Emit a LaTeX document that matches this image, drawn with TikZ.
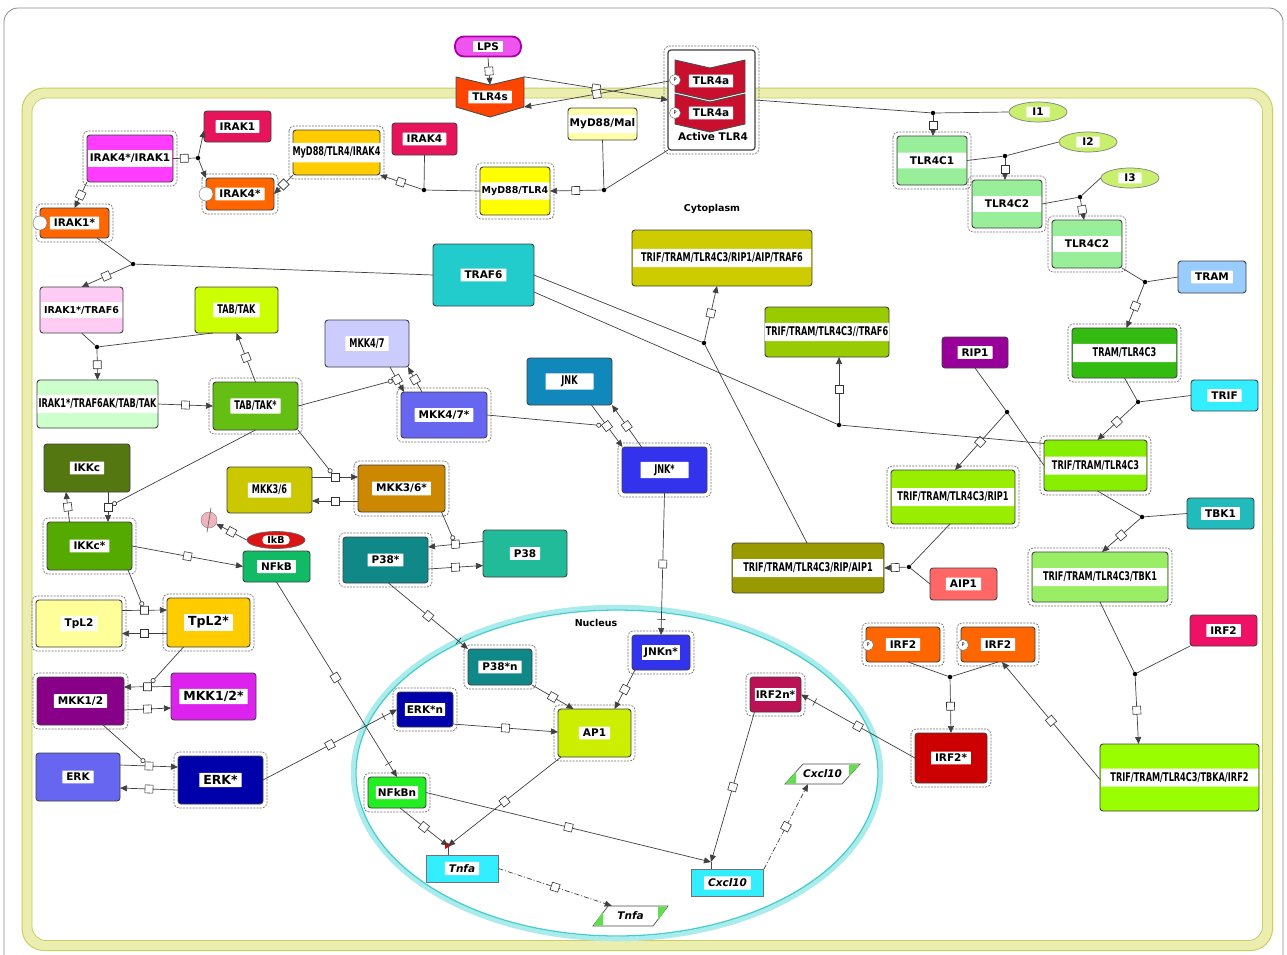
\documentclass[tikz,border=0pt]{standalone}
\usepackage{fontspec}
\setmainfont{DejaVu Sans}
\newfontfamily\condf{DejaVu Sans}[FakeStretch=0.68]
\usetikzlibrary{arrows.meta,shapes.geometric}
\newcommand{\lbf}{\bfseries\fontsize{10.5}{12}\selectfont}
\newcommand{\sbf}{\bfseries\fontsize{9.5}{11}\selectfont}
\newcommand{\gbf}{\bfseries\fontsize{12.5}{14}\selectfont}
\newcommand{\cbf}{\condf\bfseries\fontsize{12}{14}\selectfont}
\newcommand{\ibf}{\bfseries\itshape\fontsize{10.5}{12}\selectfont}
\newcommand{\mkbox}[7]{%
  \node[box,minimum width=#3,minimum height=#4,#5] (#1) at (#2) {};
  \node[lab,#6] (#1-l) at (#1.center) {#7};}
\definecolor{cLpsB}{RGB}{170,0,170}\definecolor{cLpsF}{RGB}{238,85,238}
\definecolor{cTlrS}{RGB}{255,68,0}\definecolor{cTlr}{RGB}{200,16,46}
\definecolor{cMal}{RGB}{255,255,170}\definecolor{cMyd}{RGB}{255,255,0}
\definecolor{cIRAKr}{RGB}{230,20,90}\definecolor{cGold}{RGB}{255,204,0}
\definecolor{cMag}{RGB}{255,60,255}\definecolor{cOr}{RGB}{255,102,0}
\definecolor{cPink}{RGB}{255,204,245}\definecolor{cYG}{RGB}{204,255,0}
\definecolor{cPaleG}{RGB}{204,255,204}\definecolor{cTabS}{RGB}{100,190,20}
\definecolor{cLav}{RGB}{204,204,255}\definecolor{cBV}{RGB}{102,102,240}
\definecolor{cJnk}{RGB}{17,136,187}\definecolor{cBlue}{RGB}{51,51,238}
\definecolor{cTraf}{RGB}{34,204,204}\definecolor{cOlive}{RGB}{204,204,0}
\definecolor{cYGt}{RGB}{153,204,0}\definecolor{cRip}{RGB}{153,0,153}
\definecolor{cTramC}{RGB}{51,187,17}\definecolor{cTrif}{RGB}{51,238,255}
\definecolor{cLime}{RGB}{136,238,0}\definecolor{cLimeb}{RGB}{153,238,0}
\definecolor{cTbk}{RGB}{34,187,187}\definecolor{cLG}{RGB}{153,238,102}
\definecolor{cOlb}{RGB}{153,153,0}\definecolor{cAip}{RGB}{255,102,102}
\definecolor{cTC}{RGB}{153,238,153}\definecolor{cIel}{RGB}{200,240,110}
\definecolor{cTram}{RGB}{153,204,255}\definecolor{cIkkc}{RGB}{85,119,17}
\definecolor{cIkkcs}{RGB}{85,170,0}\definecolor{cMus}{RGB}{204,200,0}
\definecolor{cBrown}{RGB}{204,136,0}\definecolor{cIkb}{RGB}{220,20,20}
\definecolor{cNfkb}{RGB}{17,187,102}\definecolor{cTeal}{RGB}{17,136,136}
\definecolor{cSea}{RGB}{34,187,153}\definecolor{cPY}{RGB}{255,255,153}
\definecolor{cPurp}{RGB}{136,0,136}\definecolor{cMagb}{RGB}{221,34,238}
\definecolor{cNavy}{RGB}{0,0,170}\definecolor{cAP}{RGB}{204,238,0}
\definecolor{cIrfn}{RGB}{187,17,85}\definecolor{cNfkbn}{RGB}{34,238,34}
\definecolor{cCyan}{RGB}{51,238,255}\definecolor{cIrfp}{RGB}{238,17,102}
\definecolor{cRed}{RGB}{204,0,0}\definecolor{cLimec}{RGB}{153,255,0}
\definecolor{cDeg}{RGB}{240,180,190}\definecolor{cMr}{RGB}{100,220,80}
\definecolor{membF}{RGB}{236,238,175}\definecolor{membD}{RGB}{200,205,100}
\definecolor{nucF}{RGB}{170,235,235}\definecolor{nucD}{RGB}{70,205,205}
\tikzset{
 box/.style={draw=black!75, line width=0.9pt, rounded corners=3pt, inner sep=0pt, outer sep=0pt},
 dotin/.style={append after command={\pgfextra{\draw[black!50, fill=none, densely dotted, line width=0.6pt, rounded corners=2pt] ([shift={(3,3)}]\tikzlastnode.north west) rectangle ([shift={(-3,-3)}]\tikzlastnode.south east);}}},
 cpx/.style={dotin, append after command={\pgfextra{\draw[black!55, fill=none, dash pattern=on 2pt off 1.2pt, line width=0.7pt, rounded corners=5pt] ([shift={(-4,-4)}]\tikzlastnode.north west) rectangle ([shift={(4,4)}]\tikzlastnode.south east);}}},
 lab/.style={fill=white, inner xsep=4pt, inner ysep=2.5pt, font=\lbf, rounded corners=0.5pt},
 cl/.style={font=\cbf},
 wide/.style={inner xsep=1pt, inner ysep=4pt, minimum width=#1},
 ln/.style={draw=black!75, line width=0.7pt},
 rx/.style={ln, -{Triangle[length=7pt,width=6pt]}},
 mrx/.style={rx, dash pattern=on 5pt off 2pt on 1pt off 2pt},
 cat/.style={ln, -{Circle[open,length=5pt,width=5pt]}},
 proc/.style={draw=black!80, solid, fill=white, line width=0.6pt, minimum size=8pt, inner sep=0pt, sloped},
 bar/.style={draw=black!80, solid, line width=0.6pt, minimum width=0pt, minimum height=8pt, inner sep=0pt, sloped},
 dot/.style={circle, fill=black, inner sep=0pt, minimum size=4.5pt},
 pcirc/.style={circle, draw=black!60, fill=white, inner sep=0pt, minimum size=11pt, font=\fontsize{5}{5}\selectfont},
 stc/.style={circle, draw=black!60, fill=white, inner sep=0pt, minimum size=14pt},
 recep/.style={draw=black!70, line width=0.9pt, line join=round},
 gene/.style={draw=black!55, fill=cCyan, line width=0.8pt, minimum width=72, minimum height=27, inner sep=0pt},
 iel/.style={ellipse, draw=black!50, fill=cIel, line width=0.7pt, minimum width=58, minimum height=20, inner sep=0pt},
 ttl/.style={font=\bfseries\fontsize{9.5}{11}\selectfont}
}
\begin{document}
\begin{tikzpicture}[x=1pt,y=-1pt]
\useasboundingbox (0,0) rectangle (1287,954);
\fill[white] (0,0) rectangle (1287,954);
\draw[black!45, line width=0.8pt, rounded corners=14pt] (4,8) rectangle (1283,990);
% membrane
\draw[line width=10pt, draw=membF, rounded corners=18pt] (27,93) rectangle (1267.5,945.5);
\draw[line width=1pt, draw=membD, rounded corners=22pt] (22,88) rectangle (1272.5,950.5);
\draw[line width=0.8pt, draw=membD, rounded corners=14pt] (32,98) rectangle (1262.5,940.5);
% nucleus
\draw[line width=4.5pt, draw=nucF] (617,773) ellipse [x radius=264, y radius=166];
\draw[line width=1.3pt, draw=nucD] (617,773) ellipse [x radius=261, y radius=163];
\node[ttl] (nuclab) at (596,623) {Nucleus};
\node[ttl] (cytlab) at (712,209) {Cytoplasm};

% ---- receptors
\node[draw=cLpsB, fill=cLpsF, line width=1.8pt, rounded corners=9pt, minimum width=66, minimum height=20, inner sep=0pt] (lps) at (488,46.5) {};
\node[lab, inner ysep=1.5pt] (lps-l) at (lps) {LPS};
\node[inner sep=0pt, minimum width=68, minimum height=40] (tlr4s) at (490,97) {};
\draw[recep, fill=cTlrS] (456,77) -- (490,85) -- (524,77) -- (524,107) -- (490,117) -- (456,107) -- cycle;
\node[lab] (tlr4s-l) at (490,97) {TLR4s};
\node[box, cpx, fill=white, line width=1.2pt, minimum width=87, minimum height=100] (active) at (711.5,100) {};
\draw[recep, fill=cTlr] (675,60) -- (710,68) -- (745,60) -- (745,92) -- (710,100) -- (675,92) -- cycle;
\draw[recep, fill=cTlr] (675,94) -- (710,102) -- (745,94) -- (745,124) -- (710,132) -- (675,124) -- cycle;
\node[lab] (tlr4a1) at (711,81) {TLR4a};
\node[lab] (tlr4a2) at (711,113) {TLR4a};
\node[pcirc] (pa1) at (675,80) {P};
\node[pcirc] (pa2) at (675,113) {P};
\node[font=\lbf] (actlab) at (713,137) {Active TLR4};

% ---- species
\mkbox{mal}{602.5,124}{69}{32}{fill=cMal}{wide=67}{MyD88/Mal}
\mkbox{myd}{515,191}{70}{48}{cpx,fill=cMyd}{wide=68,font=\sbf}{MyD88/TLR4}
\mkbox{irak4}{424.5,139}{65}{32}{fill=cIRAKr}{}{IRAK4}
\mkbox{mti4}{336.5,152.5}{87}{45}{cpx,fill=cGold}{cl,wide=85}{MyD88/TLR4/IRAK4}
\mkbox{irak1}{237.5,126.5}{67}{31}{fill=cIRAKr}{}{IRAK1}
\mkbox{iaa}{130,158.5}{86}{47}{cpx,fill=cMag}{wide=84}{IRAK4*/IRAK1}
\mkbox{irak4s}{240,194}{68}{32}{cpx,fill=cOr}{}{IRAK4*}
\node[stc] (st4) at (206,194) {};
\mkbox{irak1s}{74.5,223}{69}{30}{cpx,fill=cOr}{}{IRAK1*}
\node[stc] (st1) at (40,223) {};
\mkbox{it6}{81.5,310}{83}{46}{dotin,fill=cPink}{wide=81,font=\sbf}{IRAK1*/TRAF6}
\mkbox{tabtak}{236.5,310}{83}{46}{dotin,fill=cYG}{cl}{TAB/TAK}
\mkbox{itt}{97.5,404}{121}{48}{dotin,fill=cPaleG}{cl,wide=119}{IRAK1*/TRAF6AK/TAB/TAK}
\mkbox{tabtaks}{255.5,406}{85}{48}{cpx,fill=cTabS}{cl}{TAB/TAK*}
\mkbox{mkk47}{367,343.5}{84}{47}{dotin,fill=cLav}{cl}{MKK4/7}
\mkbox{mkk47s}{444,415}{86}{46}{cpx,fill=cBV}{}{MKK4/7*}
\mkbox{jnk}{569.5,381.5}{85}{47}{dotin,fill=cJnk}{cl,minimum width=48}{JNK}
\mkbox{jnks}{664.5,470}{85}{46}{cpx,fill=cBlue}{cl,minimum width=48}{JNK*}
\mkbox{traf6}{483.5,275}{101}{62}{fill=cTraf}{}{TRAF6}
\mkbox{big6}{722,258}{180}{56}{dotin,fill=cOlive}{cl,wide=178}{TRIF/TRAM/TLR4C3/RIP1/AIP/TRAF6}
\mkbox{t6}{827,332}{124}{50}{dotin,fill=cYGt}{cl,wide=122}{TRIF/TRAM/TLR4C3//TRAF6}
\mkbox{rip1}{975,352.5}{66}{31}{fill=cRip}{}{RIP1}
\mkbox{tramc3}{1124.5,353}{105}{50}{cpx,fill=cTramC}{cl,wide=103}{TRAM/TLR4C3}
\mkbox{trif}{1224.5,395.5}{67}{31}{fill=cTrif}{}{TRIF}
\mkbox{ttc}{1095.5,465.5}{103}{51}{cpx,fill=cLime}{cl,wide=101}{TRIF/TRAM/TLR4C3}
\mkbox{ttcr}{953,497}{124}{54}{cpx,fill=cLimeb}{cl,wide=122}{TRIF/TRAM/TLR4C3/RIP1}
\mkbox{tbk1}{1220.5,513.5}{67}{31}{fill=cTbk}{}{TBK1}
\mkbox{ttct}{1100,577}{136}{50}{cpx,fill=cLG}{cl,wide=134}{TRIF/TRAM/TLR4C3/TBK1}
\mkbox{ttcra}{808,568}{152}{50}{dotin,fill=cOlb}{cl,wide=150}{TRIF/TRAM/TLR4C3/RIP/AIP1}
\mkbox{aip1}{963.5,584}{67}{32}{fill=cAip}{}{AIP1}
\mkbox{tlr4c1}{932,160.5}{70}{49}{cpx,fill=cTC}{wide=68}{TLR4C1}
\mkbox{tlr4c2a}{1007,204}{70}{48}{cpx,fill=cTC}{wide=68}{TLR4C2}
\mkbox{tlr4c2b}{1087,244}{70}{48}{cpx,fill=cTC}{wide=68}{TLR4C2}
\mkbox{tram}{1212,277}{68}{32}{fill=cTram}{}{TRAM}
\node[iel] (i1) at (1038,112) {};
\node[lab, inner ysep=1.5pt, inner xsep=6pt] (i1-l) at (i1) {I1};
\node[iel] (i2) at (1088,142) {};
\node[lab, inner ysep=1.5pt, inner xsep=6pt] (i2-l) at (i2) {I2};
\node[iel] (i3) at (1130,178) {};
\node[lab, inner ysep=1.5pt, inner xsep=6pt] (i3-l) at (i3) {I3};
\mkbox{ikkc}{87,468}{86}{48}{dotin,fill=cIkkc}{}{IKKc}
\mkbox{ikkcs}{89.5,546}{85}{48}{cpx,fill=cIkkcs}{}{IKKc*}
\mkbox{mkk36}{269.5,490}{85}{46}{dotin,fill=cMus}{cl}{MKK3/6}
\mkbox{mkk36s}{401.5,488.5}{87}{47}{cpx,fill=cBrown}{}{MKK3/6*}
\node[ellipse, draw=black!60, fill=cIkb, line width=0.7pt, minimum width=58, minimum height=17, inner sep=0pt] (ikb) at (276,540) {};
\node[lab, inner ysep=1pt, inner xsep=5pt, rounded corners=4pt, font=\sbf] (ikb-l) at (ikb) {IkB};
\mkbox{nfkb}{276.5,566.5}{67}{31}{fill=cNfkb}{}{NFkB}
\node[circle, draw=black!50, fill=cDeg, minimum size=16pt, inner sep=0pt] (deg) at (209,520) {};
\draw[black!60, line width=0.7pt] ([shift={(-2,4)}]deg.south) -- ([shift={(2,-4)}]deg.north);
\mkbox{p38s}{385.5,560}{85}{46}{cpx,fill=cTeal}{}{P38*}
\mkbox{p38}{525,553.5}{84}{47}{dotin,fill=cSea}{}{P38}
\mkbox{tpl2}{79,623.5}{86}{47}{cpx,fill=cPY}{}{TpL2}
\mkbox{tpl2s}{208.5,622.5}{83}{49}{cpx,fill=cGold}{font=\gbf}{TpL2*}
\mkbox{mkk12}{80.5,701}{87}{48}{cpx,fill=cPurp}{}{MKK1/2}
\mkbox{mkk12s}{213.5,696.5}{85}{47}{fill=cMagb}{font=\gbf}{MKK1/2*}
\mkbox{erk}{78,777}{84}{48}{dotin,fill=cBV}{}{ERK}
\mkbox{erks}{220.5,780}{85}{48}{cpx,fill=cNavy}{font=\gbf}{ERK*}
\mkbox{p38sn}{500,667}{64}{36}{cpx,fill=cTeal}{}{P38*n}
\mkbox{jnkns}{661,652.5}{58}{35}{cpx,fill=cBlue}{inner xsep=2pt}{JNKn*}
\mkbox{erksn}{425,709.5}{56}{35}{cpx,fill=cNavy}{inner xsep=2pt}{ERK*n}
\mkbox{ap1}{594.5,733}{73}{48}{cpx,fill=cAP}{}{AP1}
\mkbox{irf2ns}{775.5,694.5}{51}{35}{cpx,fill=cIrfn}{inner xsep=1pt}{IRF2n*}
\mkbox{nfkbn}{397,792.5}{58}{31}{cpx,fill=cNfkbn}{inner xsep=2pt}{NFkBn}
\mkbox{irf2a}{903,644.5}{74}{35}{cpx,fill=cOr}{}{IRF2}
\node[pcirc] (pi1) at (868,645) {P};
\mkbox{irf2b}{998,644.5}{74}{35}{cpx,fill=cOr}{}{IRF2}
\node[pcirc] (pi2) at (963,645) {P};
\mkbox{irf2c}{1223.5,630.5}{67}{31}{fill=cIrfp}{}{IRF2}
\mkbox{irf2s}{951,758}{72}{50}{cpx,fill=cRed}{}{IRF2*}
\mkbox{tbi}{1179.5,777.5}{159}{67}{dotin,fill=cLimec}{cl,wide=157}{TRIF/TRAM/TLR4C3/TBKA/IRF2}

% genes and mRNAs
\node[gene] (tnfa) at (462,868.5) {};
\node[lab, font=\ibf] (tnfa-l) at (tnfa) {Tnfa};
\node[gene] (cxcl) at (727.5,883) {};
\node[lab, font=\ibf] (cxcl-l) at (cxcl) {Cxcl10};
\coordinate (tnfap) at (448,846);
\coordinate (cxclp) at (711,862);
\draw[black!70, line width=0.8pt] (tnfap) -- (tnfap |- tnfa.north);
\draw[black!70, line width=0.8pt] (cxclp) -- (cxclp |- cxcl.north);
\fill[red!85!black] ([shift={(-3,-4)}]tnfap) -- ++(7,3) -- ++(-7,4) -- cycle;
\node[inner sep=0pt, minimum width=75, minimum height=20] (tnfam) at (630.5,916) {};
\filldraw[fill=white, draw=black!70, line width=0.7pt] (593,926) -- (608,906) -- (668,906) -- (653,926) -- cycle;
\fill[cMr] (593.5,925.5) -- (603,911.5) -- (603,925.5) -- cycle;
\fill[cMr] (667.5,906.5) -- (658,920.5) -- (658,906.5) -- cycle;
\node[font=\ibf] (tnfam-l) at (tnfam) {Tnfa};
\node[inner sep=0pt, minimum width=75, minimum height=20] (cxclm) at (822.5,774) {};
\filldraw[fill=white, draw=black!70, line width=0.7pt] (785,784) -- (803,764) -- (860,764) -- (842,784) -- cycle;
\fill[cMr] (785.5,783.5) -- (796,771.5) -- (796,783.5) -- cycle;
\fill[cMr] (859.5,764.5) -- (849,776.5) -- (849,764.5) -- cycle;
\node[font=\ibf] (cxclm-l) at (cxclm) {Cxcl10};

% ---- junction dots
\node[dot] (jm) at (604,190) {};
\node[dot] (ji) at (424,190) {};
\node[dot] (jd) at (198,158) {};
\node[dot] (j1) at (133,264) {};
\node[dot] (j2) at (97,347) {};
\node[dot] (jt6) at (839,425) {};
\node[dot] (ja) at (704,343) {};
\node[dot] (jr) at (1007,412) {};
\node[dot] (jtr) at (1138,402) {};
\node[dot] (jtk) at (1142,517) {};
\node[dot] (jtb) at (1135,674) {};
\node[dot] (jai) at (909,567) {};
\node[dot] (jirf) at (950,677) {};
\node[dot] (j4) at (933,113) {};
\node[dot] (j5) at (1005,156) {};
\node[dot] (j6) at (1080,197) {};
\node[dot] (j7) at (1145,282) {};

% ---- connectors: receptor
\draw[rx] (lps.south) -- node[proc]{} ([yshift=-8pt]tlr4s.north);
\draw[rx] (tlr4s.north east) -- node[proc]{} (active.west);
\draw[rx] (pa1) -- node[proc]{} ([yshift=-10pt]tlr4s.east);
\draw[ln] (active.south west) -- (jm);
\draw[ln] (mal.south) -- (jm);
\draw[rx] (jm) -- node[proc]{} (myd.east);
\draw[ln] (irak4.south) -- (ji);
\draw[ln] (myd.west) -- (ji);
\draw[rx] (ji) -- node[proc]{} (mti4.south east);
\draw[rx] (mti4.south west) -- node[proc]{} (irak4s.east);
\draw[ln] (iaa.east) -- node[proc]{} (jd);
\draw[rx] (jd) -- ([yshift=-4pt]irak1.west);
\draw[rx] (jd) -- (irak4s.north west);
\draw[rx] (iaa.south west) -- node[proc]{} (irak1s.north);
\draw[ln] ([xshift=-12pt]irak1s.south east) -- (j1);
\draw[ln] (traf6.west) -- (j1);
\draw[rx] (j1) -- node[proc]{} (it6.north);
\draw[ln] (it6.south) -- (j2);
\draw[ln] ([xshift=18pt]tabtak.south west) -- (j2);
\draw[rx] (j2) -- node[proc]{} (itt.north);
\draw[rx] (itt.east) -- node[proc]{} (tabtaks.west);
\draw[rx] (tabtaks.north) -- node[proc]{} (tabtak.south);
% MKK4/7 and JNK
\draw[rx] ([xshift=23pt]mkk47.south) -- node[proc] (p47) {} ([xshift=-40pt]mkk47s.north);
\draw[rx] ([xshift=-22pt]mkk47s.north) -- node[proc]{} ([xshift=-1pt]mkk47.south east);
\draw[cat] (tabtaks.east) -- (p47);
\draw[rx] ([xshift=22pt]jnk.south) -- node[proc] (pjnk) {} ([xshift=-42pt]jnks.north);
\draw[rx] ([xshift=-23pt]jnks.north) -- node[proc]{} (jnk.south east);
\draw[cat] (mkk47s.east) -- (pjnk);
\draw[rx] (jnks.south) -- node[proc]{} node[bar,pos=0.89]{} (jnkns.north);
% MKK3/6, IKK, NFkB
\draw[rx] ([yshift=13pt]mkk36.east) -- node[proc] (p36) {} ([yshift=11.5pt]mkk36s.west);
\draw[rx] ([yshift=-12.5pt]mkk36s.west) -- node[proc]{} ([yshift=-11pt]mkk36.east);
\draw[cat] (tabtaks.south east) -- (p36);
\draw[rx] ([xshift=21pt]ikkc.south) -- node[proc] (pik) {} ([xshift=18.5pt]ikkcs.north);
\draw[rx] ([xshift=-20pt]ikkcs.north) -- node[proc]{} ([xshift=-21pt]ikkc.south);
\draw[cat] (tabtaks.south) -- (pik);
\draw[rx] (ikkcs.east) -- node[proc]{} (nfkb.west);
\draw[rx] (ikb.west) -- node[proc]{} (deg);
% TpL2, MKK1/2, ERK
\draw[rx] ([yshift=13pt]tpl2.east) -- node[proc] (ptp) {} ([yshift=12.5pt]tpl2s.west);
\draw[rx] ([yshift=-11pt]tpl2s.west) -- node[proc]{} ([yshift=-10pt]tpl2.east);
\draw[cat] ([xshift=-4pt]ikkcs.south east) -- (ptp);
\draw[rx] ([yshift=10pt]mkk12s.west) -- node[proc] (pm12) {} ([yshift=14pt]mkk12.east);
\draw[rx] ([yshift=-9pt]mkk12.east) -- node[proc]{} ([yshift=-11.5pt]mkk12s.west);
\draw[cat] ([xshift=-25pt]tpl2s.south) -- (pm12);
\draw[rx] ([yshift=12pt]erk.east) -- node[proc] (pe) {} ([yshift=13pt]erks.west);
\draw[rx] ([yshift=-10pt]erks.west) -- node[proc]{} ([yshift=-11pt]erk.east);
\draw[cat] ([xshift=22.5pt]mkk12.south) -- (pe);
\draw[rx] (erks.east) -- node[proc]{} node[bar,pos=0.9]{} (erksn.west);
\draw[rx] (nfkb.south) -- node[proc,pos=0.49]{} node[bar,pos=0.93]{} (nfkbn.north);
% P38
\draw[rx] ([yshift=12pt]p38.west) -- node[proc] (pp38) {} ([yshift=13pt]p38s.east);
\draw[rx] ([yshift=-9pt]p38s.east) -- node[proc]{} ([yshift=-12pt]p38.west);
\draw[cat] ([xshift=40pt]mkk36s.south) -- (pp38);
\draw[rx] ([xshift=3pt]p38s.south) -- node[proc]{} node[bar,pos=0.88]{} (p38sn.north west);
% nucleus
\draw[rx] (p38sn.south east) -- node[proc]{} ([xshift=-21pt]ap1.north);
\draw[rx] ([xshift=-26pt]jnkns.south) -- node[proc]{} ([xshift=20pt]ap1.north);
\draw[rx] ([yshift=-14.5pt]erksn.east) -- node[proc]{} ([yshift=1pt]ap1.west);
\draw[rx] ([xshift=3pt]ap1.south west) -- node[proc]{} (tnfap);
\draw[rx] ([xshift=3pt]nfkbn.south) -- node[proc]{} (tnfap);
\draw[rx] (nfkbn.east) -- node[proc]{} (cxclp);
\draw[rx] ([xshift=-21pt]irf2ns.south) -- node[proc]{} (cxclp);
\draw[mrx] (tnfa.east) -- node[proc]{} ([xshift=19pt]tnfam.north west);
\draw[mrx] (cxcl.north east) -- node[proc]{} ([xshift=-14.5pt]cxclm.south);
\draw[rx] (irf2s.west) -- node[proc]{} node[bar,pos=0.88]{} (irf2ns.east);
% IRF2
\draw[ln] ([xshift=5pt]irf2a.south) -- (jirf);
\draw[ln] (irf2b.south) -- (jirf);
\draw[rx] (jirf) -- node[proc]{} (irf2s.north);
\draw[rx] ([yshift=-2pt]tbi.west) -- node[proc]{} ([xshift=4pt]irf2b.south);
\draw[ln] (ttct.south) -- (jtb);
\draw[ln] (irf2c.south west) -- (jtb);
\draw[rx] (jtb) -- node[proc]{} ([xshift=-41pt]tbi.north);
% TRIF branch
\draw[ln] ([xshift=2pt]ttc.south) -- (jtk);
\draw[ln] (tbk1.west) -- (jtk);
\draw[rx] (jtk) -- node[proc]{} ([xshift=2pt]ttct.north);
\draw[ln] (tramc3.south) -- (jtr);
\draw[ln] (trif.west) -- (jtr);
\draw[rx] (jtr) -- node[proc]{} ([xshift=2pt]ttc.north);
\draw[ln] (rip1.south) -- (jr);
\draw[ln] (ttc.west) -- (jr);
\draw[rx] (jr) -- node[proc]{} ([xshift=2pt]ttcr.north);
\draw[ln] ([yshift=-17pt]traf6.east) -- (jt6);
\draw[ln] ([yshift=22pt]ttc.west) -- (jt6);
\draw[rx] (jt6) -- node[proc]{} ([xshift=12pt]t6.south);
\draw[ln] (traf6.east) -- (ja);
\draw[ln] ([xshift=-1pt]ttcra.north) -- (ja);
\draw[rx] (ja) -- node[proc]{} ([xshift=-5pt]big6.south);
\draw[ln] ([xshift=-3pt]ttcr.south) -- (jai);
\draw[ln] (aip1.west) -- (jai);
\draw[rx] (jai) -- node[proc]{} (ttcra.east);
% TLR4C chain
\draw[ln] (active.east) -- (j4);
\draw[ln] (i1.west) -- (j4);
\draw[rx] (j4) -- node[proc]{} ([xshift=1pt]tlr4c1.north);
\draw[ln] (tlr4c1.east) -- (j5);
\draw[ln] (i2.west) -- (j5);
\draw[rx] (j5) -- node[proc]{} ([xshift=-2pt]tlr4c2a.north);
\draw[ln] (tlr4c2a.east) -- (j6);
\draw[ln] (i3.west) -- (j6);
\draw[rx] (j6) -- node[proc]{} ([xshift=-3pt]tlr4c2b.north);
\draw[ln] (tlr4c2b.south east) -- (j7);
\draw[ln] (tram.west) -- (j7);
\draw[rx] (j7) -- node[proc]{} ([xshift=2pt]tramc3.north);
\end{tikzpicture}
\end{document}
